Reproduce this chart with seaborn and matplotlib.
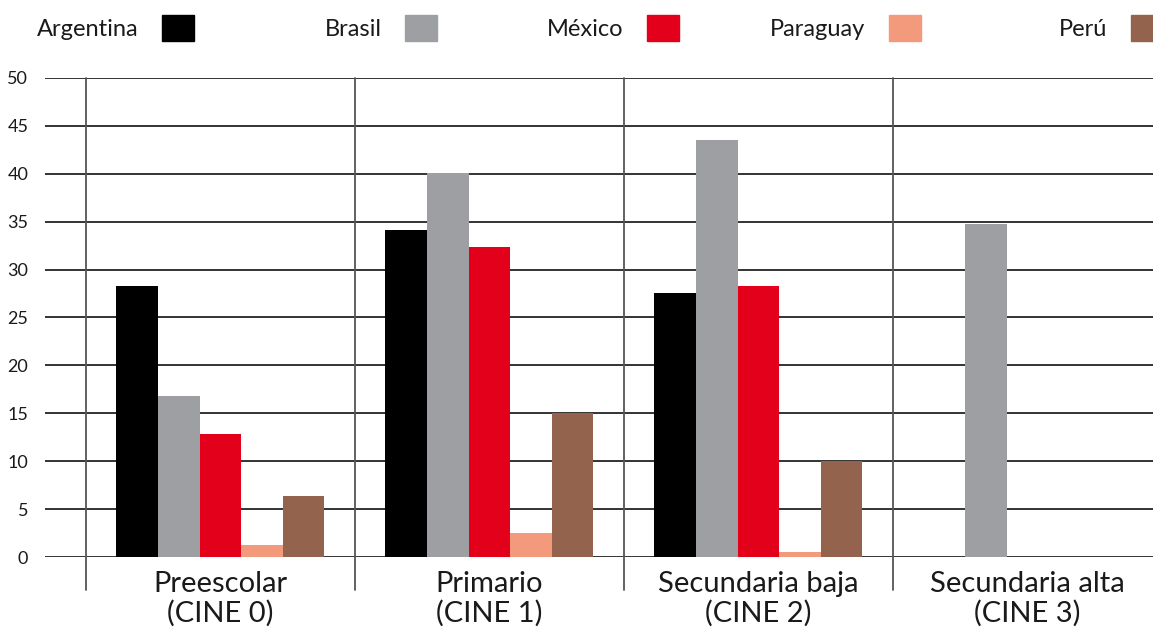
import numpy as np
import pandas as pd
import matplotlib
matplotlib.use("Agg")
import matplotlib.pyplot as plt
import matplotlib.patches as mpatches
import seaborn as sns

niveles = ["Preescolar\n(CINE 0)", "Primario\n(CINE 1)",
           "Secundaria baja\n(CINE 2)", "Secundaria alta\n(CINE 3)"]
paises = ["Argentina", "Brasil", "México", "Paraguay", "Perú"]
colores = ["#000000", "#9D9FA2", "#E2001A", "#F29A7B", "#94634E"]

argentina = [28.3, 34.1, 27.5, np.nan]
brasil = [16.8, 40.1, 43.5, 34.8]
mexico = [12.8, 32.4, 28.3, np.nan]
paraguay = [1.3, 2.5, 0.5, np.nan]
peru = [6.4, 15.0, 10.0, np.nan]

valores = [argentina, brasil, mexico, paraguay, peru]

rows = []
for pais, serie in zip(paises, valores):
	for nivel, v in zip(niveles, serie):
		rows.append({"nivel": nivel, "pais": pais, "valor": v})
df = pd.DataFrame(rows)

sns.set_style("white")
plt.rcParams['font.family'] = ['Lato', 'DejaVu Sans']

fig = plt.figure(figsize=(11.53, 6.28), dpi=100)
ax = fig.add_axes([0.039, 0.113, 0.961, 0.763])

# horizontal grid below the bars
for y in range(0, 51, 5):
	ax.axhline(y, color="#111111", lw=1.2, zorder=0)

sns.barplot(data=df, x="nivel", y="valor", hue="pais", order=niveles,
            hue_order=paises, palette=colores, width=0.773, gap=0,
            saturation=1, dodge=True, legend=False, ax=ax, zorder=2,
            linewidth=0, edgecolor="none")

# vertical separators between categories
for x in np.arange(-0.5, 4, 1):
	ax.axvline(x, ymin=-0.069, ymax=1, color="#555555", lw=1.3,
	           clip_on=False, zorder=1)

ax.set_xlim(-0.652, 3.467)
ax.set_ylim(0, 50)
ax.set_yticks(range(0, 51, 5))
ax.tick_params(axis="y", length=0, pad=12, labelsize=13, labelcolor="#1a1a1a")
ax.tick_params(axis="x", length=0, pad=10, labelsize=21, labelcolor="#1a1a1a")
for lab in ax.get_xticklabels():
	lab.set_linespacing(1.12)
ax.set_xlabel("")
ax.set_ylabel("")
sns.despine(ax=ax, left=True, bottom=True, top=True, right=True)

# legend: one entry per country, label left of swatch
rights = [194, 437, 679, 921, 1163]
for pais, col, r in zip(paises, colores, rights):
	h = mpatches.Patch(color=col, label=pais)
	fig.legend(handles=[h], loc="center right",
	           bbox_to_anchor=(r / 1153.0, 1 - 28 / 628.0),
	           markerfirst=False, frameon=False, fontsize=17,
	           handlelength=1.35, handleheight=1.35, handletextpad=1.0,
	           borderpad=0, borderaxespad=0, labelcolor="#1a1a1a")

fig.savefig("out.png", dpi=100)
